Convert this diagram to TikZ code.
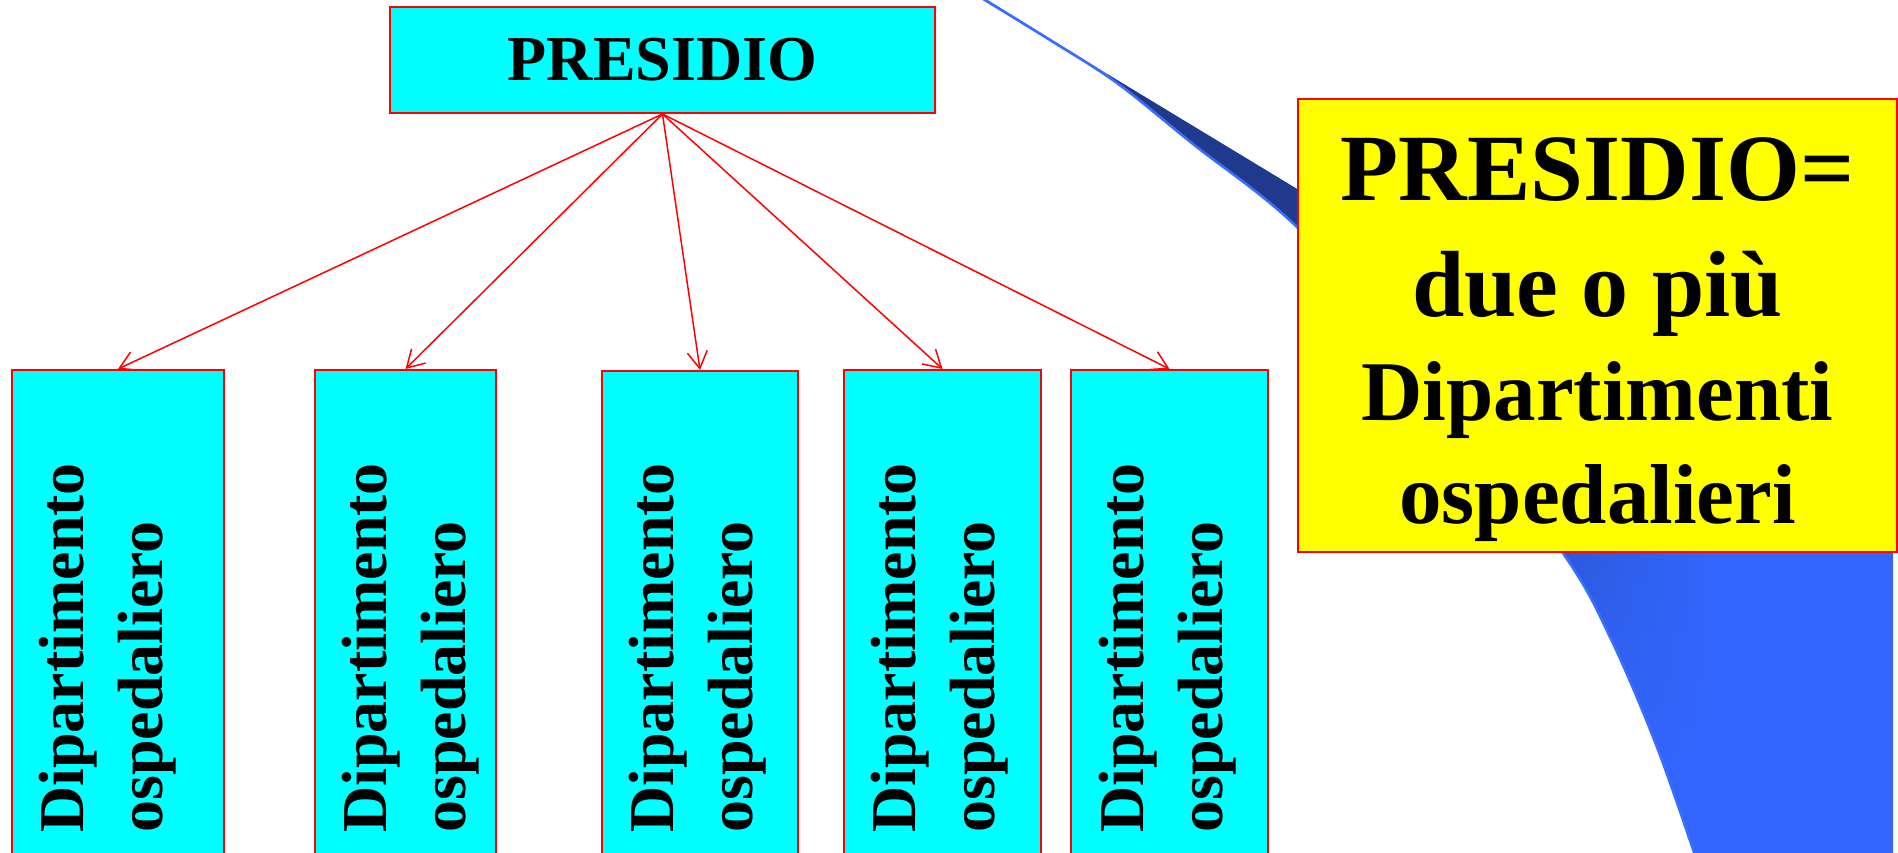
\documentclass[tikz,border=0pt]{standalone}
\usepackage{fontspec}
\setmainfont{Liberation Serif}
\usetikzlibrary{arrows.meta,fadings}

\definecolor{boxcyan}{HTML}{00FFFF}
\definecolor{boxred}{HTML}{FF0000}
\definecolor{noteyellow}{HTML}{FFFF00}
\definecolor{swooshblue}{HTML}{3366FF}
\definecolor{swooshrim}{HTML}{3A6CFF}
\definecolor{swooshshade}{HTML}{2C58D8}
\definecolor{swooshnavy}{HTML}{1F3A8C}

\tikzset{
  headbox/.style={draw=boxred, fill=boxcyan, line width=2pt, inner sep=0pt,
    minimum width=545pt, minimum height=106pt,
    font=\fontsize{64}{64}\selectfont\bfseries},
  deptbox/.style={draw=boxred, fill=boxcyan, line width=1.8pt, inner sep=0pt,
    minimum height=520pt, anchor=north},
  depttext/.style={rotate=90, anchor=north west, inner sep=0pt, align=left,
    font=\fontsize{64}{79}\selectfont\bfseries},
  notebox/.style={draw=boxred, fill=noteyellow, line width=2pt, inner sep=0pt,
    minimum width=599pt, minimum height=453pt},
  noteline/.style={anchor=base, inner sep=0pt, font=\fontsize{#1}{#1}\selectfont\bfseries},
  link/.style={draw=boxred, line width=1.5pt,
    -{Straight Barb[length=17pt, width=20pt, line width=1.5pt]}}
}

\begin{document}
\begin{tikzpicture}[x=1pt, y=-1pt]
  \useasboundingbox (0,0) rectangle (1898,852);
  \clip (0,0) rectangle (1898,852);

  % curved blue ribbon in the background
  \begin{scope}
    \clip plot[smooth, tension=0.55] coordinates {(975,-6) (1050,40) (1117,83)
        (1193,144) (1297,227) (1430,372) (1563,553) (1610,637) (1657,747) (1700,870)}
      -- (1893,870) -- (1893,530) -- (1297,189) -- (1117,80) -- (973,-9) -- cycle;
    \fill[swooshblue] (900,-20) rectangle (1900,880);
    % slightly darker shade along the curved edge, fading downwards
    \shade[left color=swooshshade, right color=swooshblue, path fading=south]
      (1550,540) rectangle (1720,820);
    \fill[swooshnavy] (1108,40) rectangle (1335,330);
  \end{scope}
  \draw[swooshrim, line width=2.6pt] plot[smooth, tension=0.55] coordinates {(975,-6)
      (1050,40) (1117,83) (1193,144) (1297,227) (1430,372) (1563,553) (1610,637)
      (1657,747) (1700,870)};

  % organisation chart
  \node[headbox] (top) at (662.5,60) {PRESIDIO};

  \node[deptbox, minimum width=212pt] (d1) at (118,369) {};
  \node[deptbox, minimum width=181pt] (d2) at (405.5,369) {};
  \node[deptbox, minimum width=196pt] (d3) at (700,370) {};
  \node[deptbox, minimum width=197pt] (d4) at (942.5,369) {};
  \node[deptbox, minimum width=197pt] (d5) at (1169.5,369) {};

  \node[depttext] (t1) at (39,833) {Dipartimento\\ospedaliero};
  \node[depttext] (t2) at (342,833) {Dipartimento\\ospedaliero};
  \node[depttext] (t3) at (629,833) {Dipartimento\\ospedaliero};
  \node[depttext] (t4) at (871,833) {Dipartimento\\ospedaliero};
  \node[depttext] (t5) at (1099,833) {Dipartimento\\ospedaliero};

  \foreach \d in {d1,d2,d3,d4,d5}
    \draw[link] (top.south) -- (\d.north);

  % definition note
  \node[notebox] (note) at (1597.5,325.5) {};
  \node[noteline=95] (n1) at (1597.5,200) {PRESIDIO=};
  \node[noteline=94] (n2) at (1597.5,316) {due o più};
  \node[noteline=85] (n3) at (1597.5,420) {Dipartimenti};
  \node[noteline=85] (n4) at (1597.5,523) {ospedalieri};
\end{tikzpicture}
\end{document}
